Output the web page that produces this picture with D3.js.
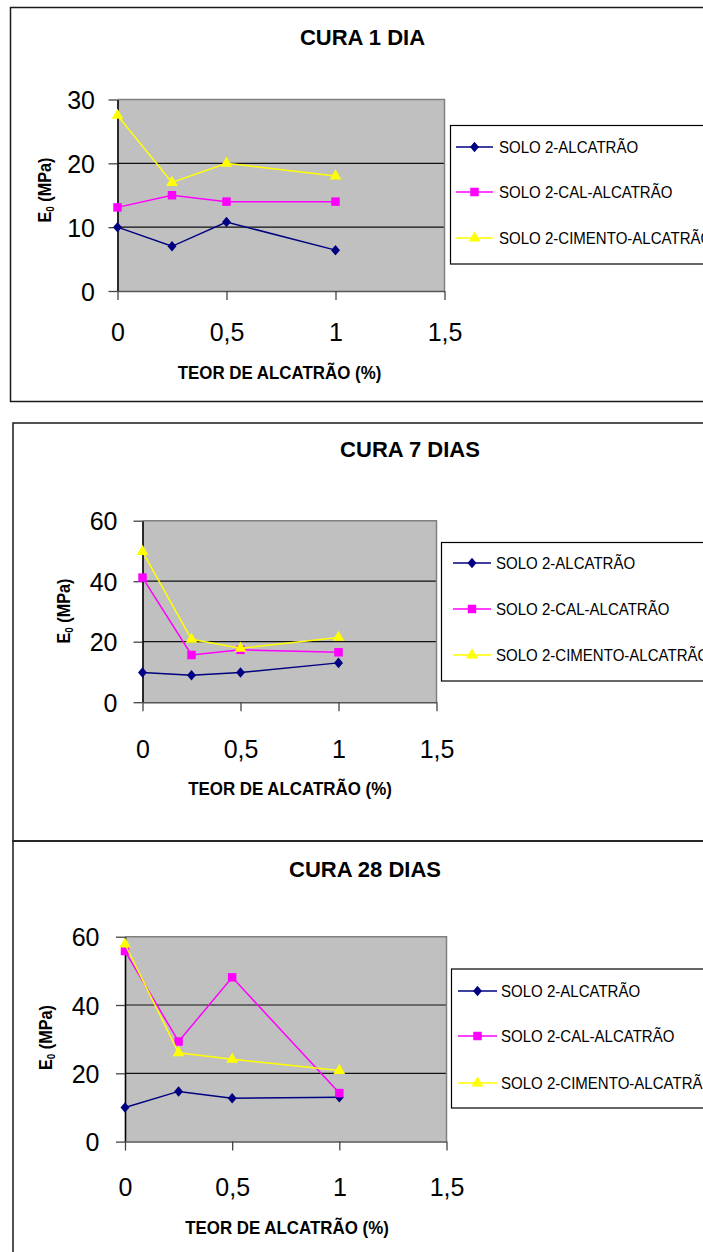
<!DOCTYPE html>
<html><head><meta charset="utf-8">
<script src="https://cdn.jsdelivr.net/npm/d3@7"></script>
<style>body{margin:0;background:#fff}svg{display:block}text{font-family:"Liberation Sans",Arial,sans-serif;fill:#000}</style>
</head><body><svg id="c" width="703" height="1252"></svg>
<script>
// ---- data ----
const xValues = [0, 0.25, 0.5, 1];
const xTicks = [0, 0.5, 1, 1.5];
const xTickLabels = ["0", "0,5", "1", "1,5"];
const seriesNames = ["SOLO 2-ALCATRÃO", "SOLO 2-CAL-ALCATRÃO", "SOLO 2-CIMENTO-ALCATRÃO"];
const chartTitles = ["CURA 1 DIA", "CURA 7 DIAS", "CURA 28 DIAS"];
const xAxisTitle = "TEOR DE ALCATRÃO (%)";
const yAxisTitleMain = "E";
const yAxisTitleSub = "0";
const yAxisTitleRest = " (MPa)";
const yTicks1 = [0, 10, 20, 30];
const yTicks7 = [0, 20, 40, 60];
const yTicks28 = [0, 20, 40, 60];
const cura1Solo = [10, 7.0, 10.8, 6.4];
const cura1Cal = [13.1, 15, 14, 14];
const cura1Cimento = [27.5, 17, 20, 18];
const cura7Solo = [9.8, 8.9, 9.8, 13];
const cura7Cal = [41.2, 15.6, 17.3, 16.5];
const cura7Cimento = [49.8, 20.8, 17.8, 21.4];
const cura28Solo = [10, 14.7, 12.7, 13];
const cura28Cal = [55.8, 29.3, 48.1, 14.2];
const cura28Cimento = [57.8, 26, 24.1, 20.8];

// ---- styles ----
const colors = ["#000080", "#FF00FF", "#FFFF00"];
const diamond = { draw(ctx, size) { const h = Math.sqrt(size) * 0.68, w = h * 0.85; ctx.moveTo(0, -h); ctx.lineTo(w, 0); ctx.lineTo(0, h); ctx.lineTo(-w, 0); ctx.closePath(); } };
const symbols = [d3.symbol().type(diamond).size(60), d3.symbol().type(d3.symbolSquare).size(72), d3.symbol().type(d3.symbolTriangle).size(60)];

const svg = d3.select("#c");

const charts = [
  { title: chartTitles[0], yTicks: yTicks1, series: [cura1Solo, cura1Cal, cura1Cimento],
    box: { x: 10.5, y: 7.5, b: 401.5 }, plot: { l: 117.5, r: 444.5, t: 99.5, b: 291 },
    titleXY: [362.5, 45], yLabRight: 95, xLabY: 341, xTitleXY: [279.5, 379], yTitleXY: [51, 190],
    legend: { x: 450.5, y: 125.5, b: 264, rows: [147, 192, 238], lx: [456, 493], tx: 499 } },
  { title: chartTitles[1], yTicks: yTicks7, series: [cura7Solo, cura7Cal, cura7Cimento],
    box: { x: 13, y: 423, b: 841 }, plot: { l: 142.5, r: 436.5, t: 520.7, b: 702.2 },
    titleXY: [410, 456.5], yLabRight: 117.5, xLabY: 758, xTitleXY: [290, 795], yTitleXY: [70, 611],
    legend: { x: 441.5, y: 542.5, b: 681, rows: [563, 609, 655], lx: [453, 491], tx: 496 } },
  { title: chartTitles[2], yTicks: yTicks28, series: [cura28Solo, cura28Cal, cura28Cimento],
    box: { x: 13, y: 841, b: 1262 }, plot: { l: 125, r: 446.5, t: 936.7, b: 1141.6 },
    titleXY: [365, 876.5], yLabRight: 99.5, xLabY: 1196, xTitleXY: [287, 1234], yTitleXY: [52, 1037.5],
    legend: { x: 451.5, y: 969, b: 1108, rows: [991, 1036, 1083], lx: [458, 497], tx: 501 } }
];

charts.forEach(c => {
  const g = svg.append("g");
  g.append("rect").attr("x", c.box.x).attr("y", c.box.y).attr("width", 800).attr("height", c.box.b - c.box.y)
    .attr("fill", "none").attr("stroke", "#1a1a1a").attr("stroke-width", 1.5);

  const x = d3.scaleLinear().domain([0, 1.5]).range([c.plot.l, c.plot.r]);
  const yMax = c.yTicks[c.yTicks.length - 1];
  const y = d3.scaleLinear().domain([0, yMax]).range([c.plot.b, c.plot.t]);

  g.append("rect").attr("x", x(0)).attr("y", y(yMax)).attr("width", x(1.5) - x(0)).attr("height", y(0) - y(yMax))
    .attr("fill", "#C0C0C0");
  g.selectAll(".grid").data(c.yTicks.slice(1, -1)).join("line")
    .attr("x1", x(0)).attr("x2", x(1.5)).attr("y1", d => y(d)).attr("y2", d => y(d))
    .attr("stroke", "#111").attr("stroke-width", 1.2);
  g.append("path").attr("d", `M${x(0)},${y(yMax)}H${x(1.5)}V${y(0)}`).attr("fill", "none")
    .attr("stroke", "#808080").attr("stroke-width", 1.5);

  const yAxis = g.append("g").attr("transform", `translate(${x(0)},0)`)
    .call(d3.axisLeft(y).tickValues(c.yTicks).tickSize(9).tickSizeOuter(0).tickFormat(d3.format("d")));
  yAxis.select(".domain").attr("stroke", "#000").attr("stroke-width", 1.6);
  yAxis.selectAll(".tick line").attr("stroke", "#444").attr("stroke-width", 1.3);
  yAxis.selectAll(".tick text").attr("x", c.yLabRight - x(0)).attr("dy", "0.36em")
    .style("font-size", "25px").attr("fill", "#000");

  const xAxis = g.append("g").attr("transform", `translate(0,${y(0)})`)
    .call(d3.axisBottom(x).tickValues(xTicks).tickSize(9).tickSizeOuter(0).tickFormat((d, i) => xTickLabels[i]));
  xAxis.select(".domain").attr("stroke", "#555").attr("stroke-width", 1.5);
  xAxis.selectAll(".tick line").attr("stroke", "#444").attr("stroke-width", 1.3);
  xAxis.selectAll(".tick text").attr("y", c.xLabY - y(0)).attr("dy", 0)
    .style("font-size", "25px").attr("fill", "#000");

  c.series.forEach((vals, si) => {
    const pts = xValues.map((xv, i) => [xv, vals[i]]);
    g.append("path").datum(pts)
      .attr("d", d3.line().x(d => x(d[0])).y(d => y(d[1])))
      .attr("fill", "none").attr("stroke", colors[si]).attr("stroke-width", 1.5);
    g.selectAll(".m" + si).data(pts).join("path")
      .attr("transform", d => `translate(${x(d[0])},${y(d[1])})`)
      .attr("d", symbols[si]()).attr("fill", colors[si]);
  });

  g.append("text").attr("x", c.titleXY[0]).attr("y", c.titleXY[1]).attr("text-anchor", "middle")
    .style("font-size", "22px").style("font-weight", "bold").text(c.title);
  g.append("text").attr("transform", `translate(${c.xTitleXY[0]},${c.xTitleXY[1]}) scale(0.89,1)`)
    .attr("text-anchor", "middle")
    .style("font-size", "19px").style("font-weight", "bold").text(xAxisTitle);
  const yt = g.append("text").attr("transform", `translate(${c.yTitleXY[0]},${c.yTitleXY[1]}) rotate(-90) scale(0.9,1)`)
    .attr("text-anchor", "middle").style("font-size", "18px").style("font-weight", "bold");
  yt.append("tspan").text(yAxisTitleMain);
  yt.append("tspan").style("font-size", "11px").attr("dy", 3).text(yAxisTitleSub);
  yt.append("tspan").attr("dy", -3).text(yAxisTitleRest);

  const L = c.legend;
  g.append("rect").attr("x", L.x).attr("y", L.y).attr("width", 400).attr("height", L.b - L.y)
    .attr("fill", "#fff").attr("stroke", "#000").attr("stroke-width", 1.2);
  seriesNames.forEach((name, si) => {
    const ry = L.rows[si];
    g.append("line").attr("x1", L.lx[0]).attr("x2", L.lx[1]).attr("y1", ry).attr("y2", ry)
      .attr("stroke", colors[si]).attr("stroke-width", 1.5);
    g.append("path").attr("transform", `translate(${(L.lx[0] + L.lx[1]) / 2},${ry})`)
      .attr("d", symbols[si]()).attr("fill", colors[si]);
    g.append("text").attr("transform", `translate(${L.tx},${ry}) scale(0.94,1)`).attr("dy", "0.36em")
      .style("font-size", "16px").text(name);
  });
});
</script></body></html>
